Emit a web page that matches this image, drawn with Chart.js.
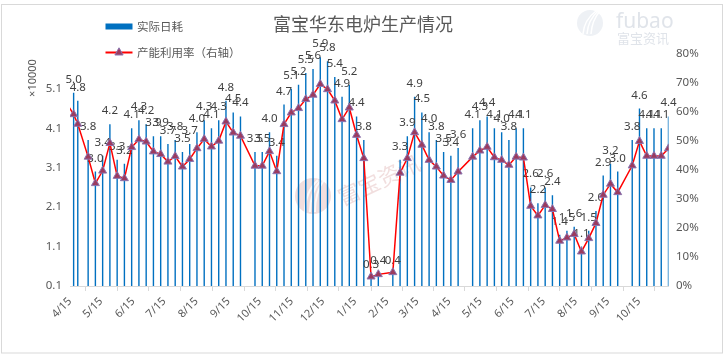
<!DOCTYPE html>
<html><head><meta charset="utf-8">
<script src="https://cdn.jsdelivr.net/npm/chart.js@4/dist/chart.umd.min.js"></script>
<style>html,body{margin:0;padding:0;background:#fff}#wrap{position:relative;width:726px;height:355px}canvas{display:block}</style>
</head><body><div id="wrap"><canvas id="c" width="726" height="355"></canvas></div>
<script>
// ---- data (week dates, daily consumption ×10000, utilization %) ----
const weekDates = [
 '2015-04-11','2015-04-18','2015-04-22',
 '2015-05-02','2015-05-09','2015-05-16','2015-05-23','2015-05-30',
 '2015-06-06','2015-06-13','2015-06-20','2015-06-27',
 '2015-07-04','2015-07-11','2015-07-18','2015-07-25',
 '2015-08-01','2015-08-08','2015-08-15','2015-08-22','2015-08-29',
 '2015-09-05','2015-09-12','2015-09-19','2015-09-26',
 '2015-10-10','2015-10-17','2015-10-24','2015-10-31',
 '2015-11-07','2015-11-14','2015-11-21','2015-11-28',
 '2015-12-05','2015-12-12','2015-12-19','2015-12-26',
 '2016-01-02','2016-01-09','2016-01-16','2016-01-23','2016-01-30',
 '2016-02-06','2016-02-20','2016-02-27',
 '2016-03-05','2016-03-12','2016-03-19','2016-03-26',
 '2016-04-02','2016-04-09','2016-04-16','2016-04-23',
 '2016-05-07','2016-05-14','2016-05-21','2016-05-28',
 '2016-06-04','2016-06-11','2016-06-18','2016-06-25',
 '2016-07-02','2016-07-09','2016-07-16','2016-07-23','2016-07-30',
 '2016-08-06','2016-08-13','2016-08-20','2016-08-27',
 '2016-09-03','2016-09-10','2016-09-17','2016-09-24',
 '2016-10-08','2016-10-15','2016-10-22','2016-10-29',
 '2016-11-05','2016-11-12'
];
const dailyUse = [
 null, 5.0, 4.8,
 3.8, 3.0, 3.4, 4.2, 3.3,
 3.2, 4.1, 4.3, 4.2,
 3.9, 3.9, 3.7, 3.8,
 3.5, 3.7, 4.0, 4.3, 4.1,
 4.3, 4.8, 4.5, 4.4,
 3.5, 3.5, 4.0, 3.4,
 4.7, 5.1, 5.2, 5.5,
 5.6, 5.9, 5.8, 5.4,
 4.9, 5.2, 4.4, 3.8, 0.3,
 0.4, 0.4, 3.3,
 3.9, 4.9, 4.5, 4.0,
 3.8, 3.5, 3.4, 3.6,
 4.1, 4.3, 4.4, 4.1,
 4.0, 3.8, 4.1, 4.1,
 2.6, 2.2, 2.6, 2.4, 1.4,
 1.5, 1.6, 1.1, 1.5,
 2.0, 2.9, 3.2, 3.0,
 3.8, 4.6, 4.1, 4.1,
 4.1, 4.4
];
const utilization = [
 63.0, 59.0, 55.7,
 44.4, 35.3, 39.6, 49.1, 37.8,
 37.0, 47.7, 50.4, 49.6,
 46.2, 45.3, 42.7, 44.6,
 41.0, 43.6, 47.3, 50.5, 47.9,
 49.9, 56.5, 52.7, 51.6,
 41.3, 41.3, 46.3, 39.4,
 55.6, 59.6, 61.1, 64.2,
 65.7, 69.4, 67.6, 63.7,
 57.3, 61.3, 51.9, 43.9, 3.2,
 4.0, 4.7, 38.9,
 43.9, 52.8, 48.5, 43.3,
 41.0, 37.9, 36.4, 39.3,
 44.4, 46.5, 47.8, 44.2,
 43.3, 41.6, 44.4, 44.1,
 27.5, 24.2, 27.8, 26.4, 15.5,
 16.6, 17.8, 11.8, 16.4,
 21.6, 31.3, 35.1, 32.2,
 41.4, 49.8, 44.7, 44.7,
 44.7, 47.3
];
const axisStart = '2015-04-15';
const axisEnd = '2016-11-12';
const tickDates = ['2015-04-15','2015-05-15','2015-06-15','2015-07-15','2015-08-15','2015-09-15','2015-10-15','2015-11-15','2015-12-15','2016-01-15','2016-02-15','2016-03-15','2016-04-15','2016-05-15','2016-06-15','2016-07-15','2016-08-15','2016-09-15','2016-10-15'];
const tickLabels = ['4/15','5/15','6/15','7/15','8/15','9/15','10/15','11/15','12/15','1/15','2/15','3/15','4/15','5/15','6/15','7/15','8/15','9/15','10/15'];
const leftTicks = [0.1, 1.1, 2.1, 3.1, 4.1, 5.1];
const rightTicks = [0, 10, 20, 30, 40, 50, 60, 70, 80];
const titleText = '富宝华东电炉生产情况';
const seriesNames = ['实际日耗', '产能利用率（右轴）'];
const unitText = '×10000';

// ---- helpers ----
const DAY = 86400000;
function utc(s){ const [y,m,d] = s.split('-').map(Number); return Date.UTC(y, m-1, d); }
function toDay(s){ return (utc(s) - utc(axisStart)) / DAY; }
const xMax = toDay(axisEnd) + 0.5;
const barPts = weekDates.map((d,i)=>({x: toDay(d)+0.5, y: dailyUse[i]}));
const linePts = weekDates.map((d,i)=>({x: toDay(d)+0.5, y: utilization[i]}));
const tickDays = tickDates.map(toDay);

const FONT = '"Noto Sans", "Noto Sans CJK SC", sans-serif';
const CJK = '"Noto Sans CJK SC", "Noto Sans", sans-serif';
const GRAY = '#595959';
const BLUE = '#0070C0';
const RED = '#FF0000';
const MK_FILL = '#9B3B5F';
const MK_LINE = '#8A74B0';

Chart.defaults.font.family = FONT;
Chart.defaults.color = GRAY;

const decor = {
  id: 'decor',
  beforeDraw(chart){
    const c = chart.ctx;
    c.save();
    c.fillStyle = '#fff'; c.fillRect(0,0,chart.width,chart.height);
    c.strokeStyle = '#D9D9D9'; c.lineWidth = 1;
    c.strokeRect(1.5, 4.5, 721, 348.5);
    // top-right logo
    c.fillStyle = '#EEF1F5';
    c.beginPath(); c.arc(590, 23, 13, 0, Math.PI*2); c.fill();
    c.strokeStyle = '#FFFFFF'; c.lineWidth = 1.5;
    for (let k=0;k<3;k++){ c.beginPath(); c.moveTo(583+k*4, 34); c.quadraticCurveTo(584+k*4, 20, 596+k*2, 11); c.stroke(); }
    c.fillStyle = '#E0E4EA';
    c.font = '21px ' + FONT; c.textAlign = 'left'; c.textBaseline = 'alphabetic';
    c.fillText('fubao', 616, 28);
    c.font = '13px ' + CJK;
    c.fillText('富宝资讯', 617, 43);
    // title
    c.fillStyle = GRAY; c.font = '18px ' + CJK; c.textAlign = 'center'; c.textBaseline = 'middle';
    c.fillText(titleText, 363, 24);
    // legend
    c.fillStyle = BLUE; c.fillRect(105.5, 23.5, 27, 6);
    c.strokeStyle = RED; c.lineWidth = 2;
    c.beginPath(); c.moveTo(105.5, 52.5); c.lineTo(132.5, 52.5); c.stroke();
    c.fillStyle = MK_FILL; c.strokeStyle = MK_LINE; c.lineWidth = 1;
    c.beginPath(); c.moveTo(119, 47.8); c.lineTo(123.1, 55); c.lineTo(114.9, 55); c.closePath(); c.fill(); c.stroke();
    c.fillStyle = GRAY; c.font = '11.5px ' + CJK; c.textAlign = 'left'; c.textBaseline = 'middle';
    c.fillText(seriesNames[0], 137, 26.5);
    c.fillText(seriesNames[1], 137, 52.5);
    // unit
    c.save(); c.translate(33, 78); c.rotate(-Math.PI/2);
    c.font = '11px ' + FONT; c.textAlign = 'center'; c.textBaseline = 'middle';
    c.fillText(unitText, 0, 0); c.restore();
    c.restore();
  },
  beforeDatasetsDraw(chart){
    const c = chart.ctx;
    c.save();
    c.fillStyle = 'rgba(214,160,160,0.35)';
    c.beginPath(); c.arc(313, 196, 18, 0, Math.PI*2); c.fill();
    c.strokeStyle = 'rgba(255,255,255,0.8)'; c.lineWidth = 2;
    for (let k=0;k<3;k++){ c.beginPath(); c.moveTo(305+k*5, 212); c.quadraticCurveTo(305+k*5, 192, 318+k*3, 180); c.stroke(); }
    c.translate(379, 180); c.rotate(-25*Math.PI/180);
    c.fillStyle = 'rgba(214,160,160,0.35)';
    c.font = '22px ' + CJK; c.textAlign = 'center'; c.textBaseline = 'middle';
    c.fillText('富宝资讯', 0, 0);
    c.restore();
  },
  afterDatasetDraw(chart, args){
    if (args.index !== 0) return;
    const c = chart.ctx;
    const meta = chart.getDatasetMeta(0);
    c.save();
    c.fillStyle = '#404040'; c.font = '11.5px ' + FONT; c.textAlign = 'center'; c.textBaseline = 'alphabetic';
    meta.data.forEach((el, i) => {
      const v = dailyUse[i];
      if (v === null || v === undefined) return;
      c.fillText(v.toFixed(1), el.x, el.y - 10);
    });
    c.restore();
  }
};

new Chart(document.getElementById('c'), {
  type: 'bar',
  data: {
    datasets: [
      { label: seriesNames[0], type: 'bar', data: barPts, yAxisID: 'yL', xAxisID: 'x',
        backgroundColor: BLUE, barThickness: 1.4, maxBarThickness: 1.4, base: 0.1, order: 2,
        inflateAmount: 0, borderWidth: 0 },
      { label: seriesNames[1], type: 'line', data: linePts, yAxisID: 'yR', xAxisID: 'x',
        borderColor: RED, borderWidth: 1.5, tension: 0, order: 1,
        pointStyle: 'triangle', pointRadius: ctx => (ctx.raw && ctx.raw.x < 0 ? 0 : 4.6),
        pointBackgroundColor: MK_FILL, pointBorderColor: MK_LINE, pointBorderWidth: 1 }
    ]
  },
  options: {
    responsive: false, animation: false, devicePixelRatio: 1,
    layout: { padding: { top: 53.3, left: 0, right: 0, bottom: 0 } },
    plugins: { legend: { display: false }, title: { display: false }, tooltip: { enabled: false } },
    scales: {
      x: {
        type: 'linear', position: 'bottom', min: 0, max: xMax, offset: false,
        grid: { display: true, drawOnChartArea: false, drawTicks: true, tickLength: 5, color: '#D9D9D9' },
        border: { display: true, color: '#D9D9D9' },
        ticks: { autoSkip: false, minRotation: 45, maxRotation: 45, padding: 4, color: GRAY,
                 font: { size: 11 }, callback: (v, i) => tickLabels[i] },
        afterBuildTicks: s => { s.ticks = tickDays.map(v => ({ value: v })); },
        afterFit: s => { s.height = 69; }
      },
      yL: {
        type: 'linear', position: 'left', min: 0.1, max: 6.0,
        grid: { display: false, drawTicks: false }, border: { display: false },
        ticks: { padding: 8, color: GRAY, font: { size: 11.5 }, callback: v => Number(v).toFixed(1) },
        afterBuildTicks: s => { s.ticks = leftTicks.map(v => ({ value: v })); },
        afterFit: s => { s.width = 70; }
      },
      yR: {
        type: 'linear', position: 'right', min: 0, max: 80,
        grid: { display: false, drawTicks: false }, border: { display: false },
        ticks: { padding: 7.5, color: GRAY, font: { size: 11.5 }, callback: v => v + '%' },
        afterBuildTicks: s => { s.ticks = rightTicks.map(v => ({ value: v })); },
        afterFit: s => { s.width = 57.5; }
      }
    }
  },
  plugins: [decor]
});
</script></body></html>
